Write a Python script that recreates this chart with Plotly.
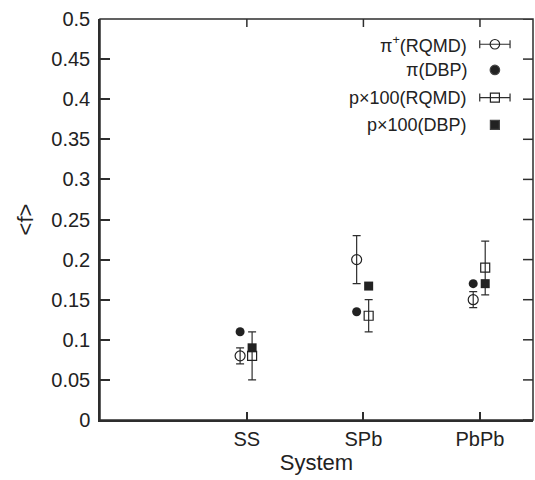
import plotly.graph_objects as go

systems = ["SS", "SPb", "PbPb"]
sys_pos = [1, 2, 3]

pi_rqmd = [0.08, 0.20, 0.15]
pi_rqmd_hi = [0.09, 0.23, 0.16]
pi_rqmd_lo = [0.07, 0.17, 0.14]
pi_dbp = [0.11, 0.135, 0.17]
p_rqmd = [0.08, 0.13, 0.19]
p_rqmd_hi = [0.11, 0.15, 0.223]
p_rqmd_lo = [0.05, 0.11, 0.156]
p_dbp = [0.09, 0.167, 0.17]

legend_labels = ["π<sup>+</sup>(RQMD)", "π(DBP)", "p×100(RQMD)", "p×100(DBP)"]
symbols = ["circle-open", "circle", "square-open", "square"]

y_ticks = [0, 0.05, 0.1, 0.15, 0.2, 0.25, 0.3, 0.35, 0.4, 0.45, 0.5]

INK = "#222222"
AX = "#2e2e2e"
FONT = "Liberation Sans, Arial, Helvetica, sans-serif"

X_RANGE = [-0.26, 3.455]
Y_RANGE = [0, 0.5]

W, H = 535, 480
ML, MR, MT, MB = 100, 2, 19, 60
PW = W - ML - MR
PH = H - MT - MB

off_c = -0.058
off_s = 0.045
xc = [p + off_c for p in sys_pos]
xs = [p + off_s for p in sys_pos]

fig = go.Figure()

def err(vals, hi, lo):
    return dict(type="data", symmetric=False,
                array=[h - v for h, v in zip(hi, vals)],
                arrayminus=[v - l for v, l in zip(vals, lo)],
                color=AX, thickness=1.2, width=4)

fig.add_trace(go.Scatter(x=xc, y=pi_rqmd, mode="markers",
                         marker=dict(symbol="circle-open", size=10, color=INK, line=dict(width=1.2)),
                         error_y=err(pi_rqmd, pi_rqmd_hi, pi_rqmd_lo), showlegend=False))
fig.add_trace(go.Scatter(x=xc, y=pi_dbp, mode="markers",
                         marker=dict(symbol="circle", size=9, color=INK), showlegend=False))
fig.add_trace(go.Scatter(x=xs, y=p_rqmd, mode="markers",
                         marker=dict(symbol="square-open", size=9, color=INK, line=dict(width=1.2)),
                         error_y=err(p_rqmd, p_rqmd_hi, p_rqmd_lo), showlegend=False))
fig.add_trace(go.Scatter(x=xs, y=p_dbp, mode="markers",
                         marker=dict(symbol="square", size=9, color=INK), showlegend=False))

# manual legend (symbols to the right of the text), placed by fractions of the axes
def fx(f):
    return X_RANGE[0] + f * (X_RANGE[1] - X_RANGE[0])

def fy(f):
    return Y_RANGE[0] + f * (Y_RANGE[1] - Y_RANGE[0])

leg_rows = [0.937, 0.873, 0.804, 0.736]
leg_err = [True, False, True, False]
for lab, sym, r, e in zip(legend_labels, symbols, leg_rows, leg_err):
    tr = go.Scatter(x=[fx(0.912)], y=[fy(r)], mode="markers",
                    marker=dict(symbol=sym, size=9 if "square" in sym else 9.5, color=INK,
                                line=dict(width=1.2)),
                    showlegend=False, hoverinfo="skip")
    if e:
        tr.error_x = dict(type="constant", value=0.035 * (X_RANGE[1] - X_RANGE[0]),
                          color=AX, thickness=1.2, width=4)
    fig.add_trace(tr)
    fig.add_annotation(x=0.852, y=r, xref="x domain", yref="y domain", text=lab, showarrow=False,
                       xanchor="right", yanchor="middle",
                       font=dict(family=FONT, size=18, color=INK))

# frame (all four sides) with mirrored inward ticks on top and right
fig.add_shape(type="rect", xref="paper", yref="paper", x0=0, x1=1, y0=0, y1=1,
              line=dict(color=AX, width=1.5), layer="above")
for xv in sys_pos:
    fig.add_shape(type="line", xref="x", yref="paper", x0=xv, x1=xv, y0=1, y1=1 - 8 / PH,
                  line=dict(color=AX, width=1.5), layer="above")
for yv in y_ticks:
    fig.add_shape(type="line", xref="paper", yref="y", x0=1, x1=1 - 10 / PW, y0=yv, y1=yv,
                  line=dict(color=AX, width=1.5), layer="above")

fig.update_layout(
    width=W, height=H,
    margin=dict(l=ML, r=MR, t=MT, b=MB),
    paper_bgcolor="white", plot_bgcolor="white",
    font=dict(family=FONT, color=INK),
    hovermode=False,
    xaxis=dict(range=X_RANGE, tickmode="array", tickvals=sys_pos, ticktext=systems,
               ticks="inside", ticklen=8, tickwidth=1.5, tickcolor=AX,
               showline=True, linecolor=AX, linewidth=1.5,
               showgrid=False, zeroline=False, automargin=False,
               tickfont=dict(size=20, family=FONT, color=INK),
               title=dict(text="System", font=dict(size=22, family=FONT, color=INK), standoff=2)),
    yaxis=dict(range=Y_RANGE, tickmode="array", tickvals=y_ticks,
               ticktext=[f"{v:g}" for v in y_ticks],
               ticks="inside", ticklen=10, tickwidth=1.5, tickcolor=AX,
               showline=True, linecolor=AX, linewidth=1.5,
               showgrid=False, zeroline=False, ticklabelstandoff=4, automargin=False,
               tickfont=dict(size=20, family=FONT, color=INK),
               title=dict(text="&lt;f&gt;", font=dict(size=22, family=FONT, color=INK), standoff=12)),
)

fig.write_html("out.html", config={"displayModeBar": False},
               post_script="document.body.style.margin='0';document.body.style.overflow='hidden';")
